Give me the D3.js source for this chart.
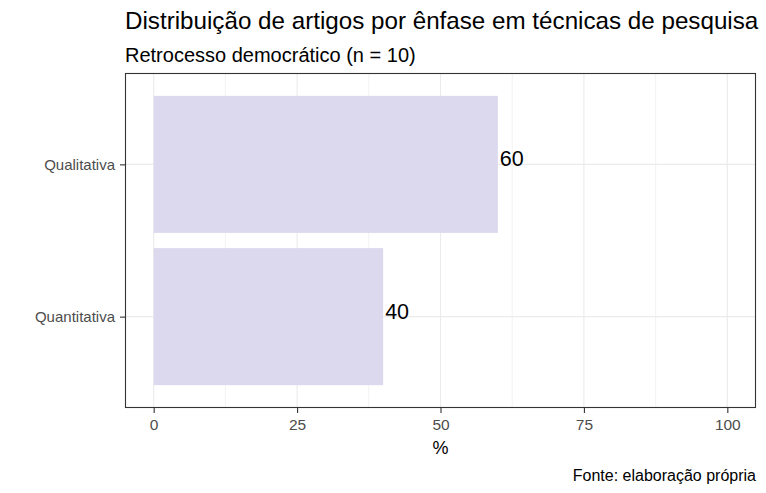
<!DOCTYPE html>
<html>
<head>
<meta charset="utf-8">
<script src="https://cdn.jsdelivr.net/npm/d3@7.9.0/dist/d3.min.js"></script>
<style>
  body { margin: 0; background: #fff; }
  svg { display: block; font-family: "Liberation Sans", Arial, sans-serif; }
</style>
</head>
<body>
<div id="chart"></div>
<script>
const categories = ["Qualitativa", "Quantitativa"];
const values = [60, 40];
const xTicks = [0, 25, 50, 75, 100];
const xMinor = [12.5, 37.5, 62.5, 87.5];

const width = 766;
const height = 493;
const panel = { left: 125, right: 756, top: 73, bottom: 408 };

const svg = d3.select("#chart")
  .append("svg")
  .attr("width", width)
  .attr("height", height);

const xScale = d3.scaleLinear()
  .domain([-5, 105])
  .range([panel.left, panel.right]);

// discrete axis with ggplot-like 0.6 expansion
const yScale = d3.scaleLinear()
  .domain([0.4, 2.6])
  .range([panel.top, panel.bottom]);

const bandH = (yScale(1) - yScale(0)) * 0.9;

// gridlines
const grid = svg.append("g").attr("class", "grid");
grid.selectAll("line.minor")
  .data(xMinor)
  .join("line")
  .attr("x1", (d) => xScale(d))
  .attr("x2", (d) => xScale(d))
  .attr("y1", panel.top)
  .attr("y2", panel.bottom)
  .attr("stroke", "#ebebeb")
  .attr("stroke-width", 0.6);

grid.selectAll("line.major")
  .data(xTicks)
  .join("line")
  .attr("x1", (d) => xScale(d))
  .attr("x2", (d) => xScale(d))
  .attr("y1", panel.top)
  .attr("y2", panel.bottom)
  .attr("stroke", "#ebebeb")
  .attr("stroke-width", 1.1);

grid.selectAll("line.hmajor")
  .data(categories)
  .join("line")
  .attr("x1", panel.left)
  .attr("x2", panel.right)
  .attr("y1", (d, i) => yScale(i + 1))
  .attr("y2", (d, i) => yScale(i + 1))
  .attr("stroke", "#ebebeb")
  .attr("stroke-width", 1.1);

// bars
svg.append("g")
  .selectAll("rect")
  .data(categories)
  .join("rect")
  .attr("x", xScale(0))
  .attr("y", (d, i) => yScale(i + 1) - bandH / 2)
  .attr("width", (d, i) => xScale(values[i]) - xScale(0))
  .attr("height", bandH)
  .attr("fill", "#dcd8ee");

// value labels
svg.append("g")
  .selectAll("text")
  .data(categories)
  .join("text")
  .attr("x", (d, i) => xScale(values[i]) + 2)
  .attr("y", (d, i) => yScale(i + 1) + 2)
  .attr("font-size", 21.5)
  .attr("fill", "#000")
  .text((d, i) => values[i]);

// panel border
svg.append("rect")
  .attr("x", panel.left + 0.5)
  .attr("y", panel.top + 0.5)
  .attr("width", panel.right - panel.left - 1)
  .attr("height", panel.bottom - panel.top - 1)
  .attr("fill", "none")
  .attr("stroke", "#333333")
  .attr("stroke-width", 1.1);

// x axis
const xAxis = svg.append("g")
  .attr("transform", `translate(0, ${panel.bottom})`)
  .call(d3.axisBottom(xScale).tickValues(xTicks).tickSize(5).tickPadding(6));
xAxis.select(".domain").remove();
xAxis.attr("font-size", 15.5).attr("font-family", "'Liberation Sans', Arial, sans-serif");
xAxis.selectAll(".tick line").attr("stroke", "#333333").attr("stroke-width", 1.1);
xAxis.selectAll(".tick text").attr("fill", "#4d4d4d");

// y axis
const yAxis = svg.append("g")
  .attr("transform", `translate(${panel.left}, 0)`)
  .call(d3.axisLeft(yScale)
    .tickValues([1, 2])
    .tickFormat((d) => categories[d - 1])
    .tickSize(5)
    .tickPadding(5));
yAxis.select(".domain").remove();
yAxis.attr("font-size", 15).attr("font-family", "'Liberation Sans', Arial, sans-serif");
yAxis.selectAll(".tick line").attr("stroke", "#333333").attr("stroke-width", 1.1);
yAxis.selectAll(".tick text").attr("fill", "#4d4d4d");

// titles
svg.append("text")
  .attr("x", panel.left)
  .attr("y", 29)
  .attr("font-size", 24.2)
  .attr("fill", "#000")
  .text("Distribuição de artigos por ênfase em técnicas de pesquisa");

svg.append("text")
  .attr("x", panel.left)
  .attr("y", 62)
  .attr("font-size", 20)
  .attr("fill", "#000")
  .text("Retrocesso democrático (n = 10)");

svg.append("text")
  .attr("x", (panel.left + panel.right) / 2)
  .attr("y", 454)
  .attr("text-anchor", "middle")
  .attr("font-size", 18)
  .attr("fill", "#000")
  .text("%");

svg.append("text")
  .attr("x", panel.right)
  .attr("y", 481)
  .attr("text-anchor", "end")
  .attr("font-size", 16)
  .attr("fill", "#000")
  .text("Fonte: elaboração própria");
</script>
</body>
</html>
